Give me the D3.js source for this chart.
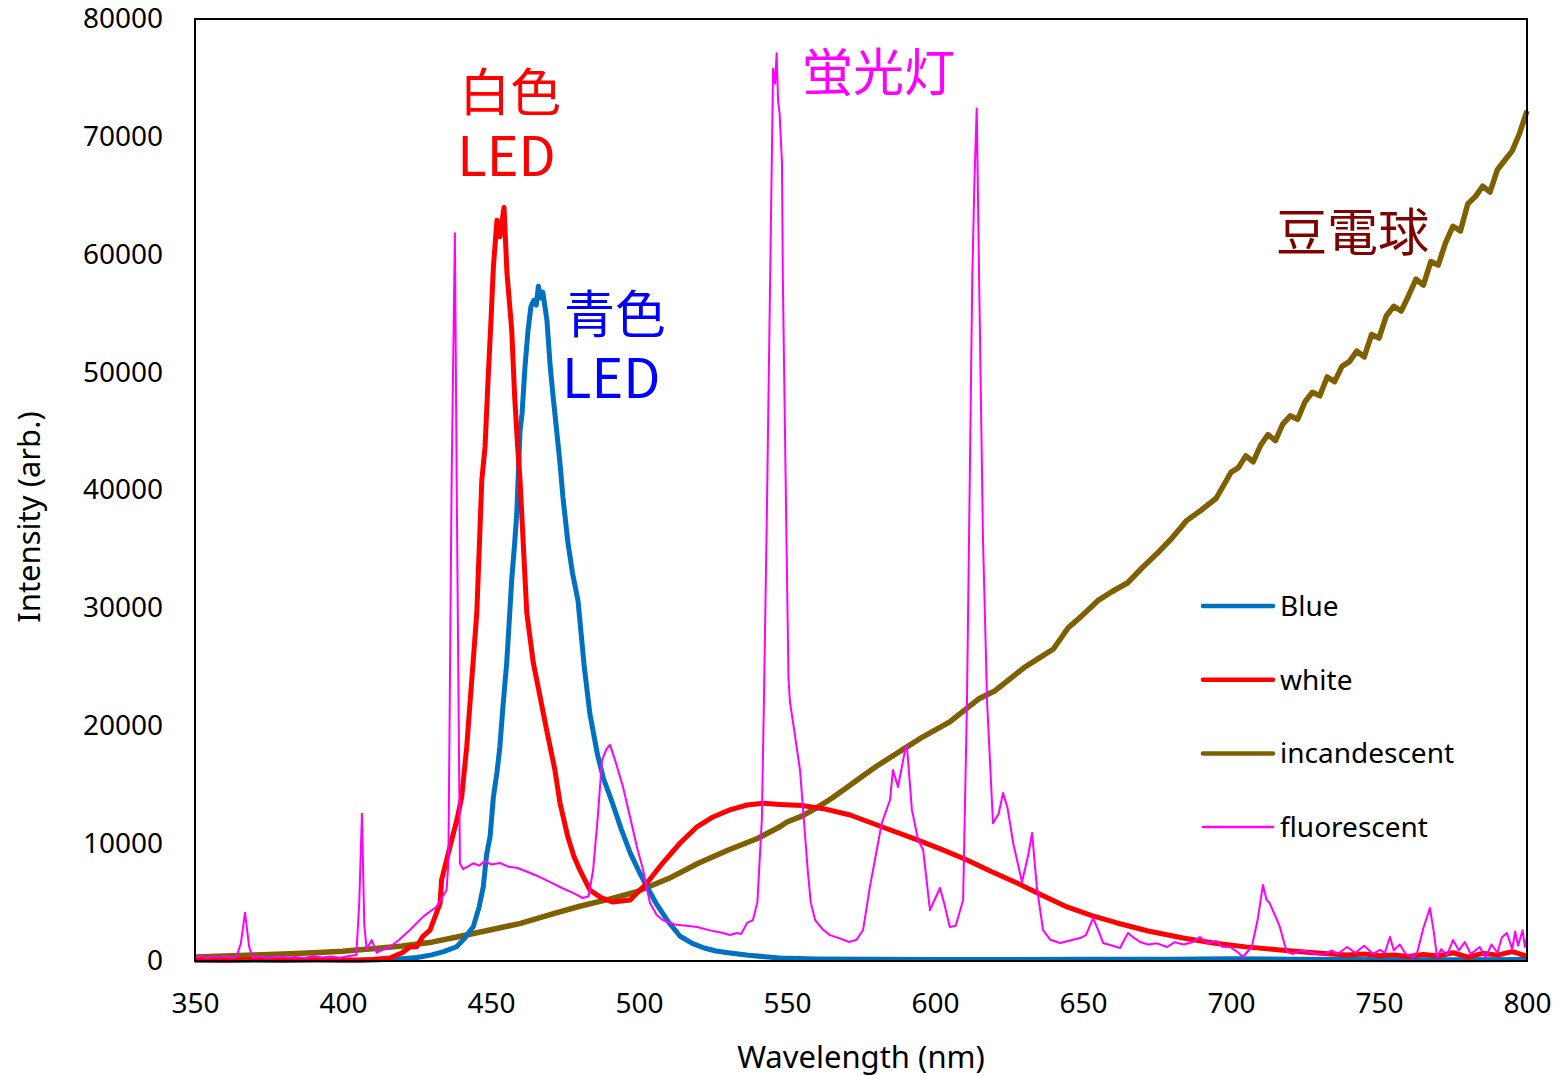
<!DOCTYPE html>
<html lang="ja">

<head>
    <meta charset="UTF-8">
    <style type="text/css">
        body {
            margin: 0;
            background: #fff;
        }

        .axis path,
        .axis line {
            display: none;
        }

        .axis text {
            font-family: "Noto Sans", sans-serif;
            font-size: 28px;
            fill: #000;
        }

        .title {
            font-family: "Noto Sans", sans-serif;
            font-size: 31px;
            fill: #000;
        }

        .legend text {
            font-family: "Noto Sans", sans-serif;
            font-size: 28px;
            fill: #000;
        }

        .note {
            font-family: "Noto Sans CJK JP", sans-serif;
        }
    </style>
</head>

<body>
    <div id="chart"></div>

    <script src="https://cdn.jsdelivr.net/npm/d3@7"></script>
    <script type="text/javascript">

        // blue LED
        var blueNm = [350, 360, 370, 380, 390, 400, 410, 415, 420, 425, 430, 434, 438.4, 441, 444, 446, 447.4, 448.5, 449.7, 450.8,
            452, 453, 454, 455.3, 456.2, 457, 458, 458.7, 459.8, 460.5, 461.5, 462.5, 463.5, 464.5, 465.3, 466, 466.8, 467.5,
            468.9, 470, 471, 472.2, 473.3, 474.3, 476, 477.5, 479.4, 481.5, 483.4, 486, 488, 490.9, 494, 497, 500, 502.7,
            506, 510, 513.9, 518, 522, 526, 530.7, 537, 547.6, 560, 580, 600, 620, 650, 680, 700, 720, 740, 760, 780, 800];
        var blueInt = [60, 40, 70, 50, 80, 60, 90, 120, 200, 300, 520, 800, 1210, 1900, 2900, 4600, 6300, 9000, 10600, 13900,
            16000, 18200, 21500, 25300, 29000, 32400, 35500, 38000, 45000, 46500, 50500, 53500, 55600, 56100, 55700, 57300, 56300, 56800,
            54400, 50500, 47900, 45000, 42300, 39400, 35500, 33000, 30600, 25000, 21000, 17500, 15500, 13500, 11200, 9200, 7600, 6300,
            4800, 3300, 2100, 1500, 1100, 850, 680, 480, 260, 180, 140, 130, 120, 140, 150, 190, 150, 120, 110, 100, 130];

        // white LED
        var whiteNm = [350, 360, 370, 380, 390, 400, 405, 410, 415.9, 420, 422.6, 424.9, 427, 429.4, 432.8, 433.3, 436.1, 438.5, 440.1,
            441.8, 443.5, 445.2, 446.9, 448, 449, 450, 450.8, 452, 453, 454.4, 455.4, 457, 458, 459, 459.8, 462.1, 464.3, 466.6,
            468.8, 471.6, 473.3, 476, 478, 480, 483.4, 487, 491, 497, 502.7, 508, 513.9, 519.6, 525, 530.7, 536.5, 542, 547.6,
            555, 563, 571.3, 582, 594, 602, 610.8, 619, 627.7, 636, 644.6, 653, 661.5, 672, 683.8, 694, 705, 716.5, 728, 739,
            745, 750, 755, 760, 765, 770, 775, 780, 785, 790, 795, 800];
        var whiteInt = [100, 60, 120, 80, 110, 90, 60, 130, 255, 700, 1190, 1210, 2100, 2630, 4900, 6880, 9680, 12000, 13930,
            18180, 23870, 29550, 40850, 43700, 49300, 54400, 58900, 62900, 61500, 64000, 58400, 53600, 47900, 43700, 40850, 29550, 25300, 22420,
            19620, 16220, 13420, 10500, 8900, 7730, 6030, 5400, 5010, 5180, 6630, 8320, 10020, 11400, 12230, 12830, 13250, 13400, 13300,
            13200, 12900, 12400, 11400, 10280, 9500, 8580, 7600, 6630, 5600, 4590, 3850, 3230, 2550, 1950, 1530, 1200, 935, 700, 510,
            600, 450, 520, 380, 560, 420, 700, 330, 650, 500, 800, 400];

        // incandescent
        var incNm = [350, 360, 370, 380, 390, 400, 404.7, 410, 420, 430, 438.5, 450, 460, 472, 480, 490, 499, 510, 520, 530, 540, 547.6,
            550, 555, 560, 565, 570, 575, 580, 585, 590, 595, 600, 605, 610, 615, 620, 625, 630, 635, 640, 645, 650, 655, 660, 665,
            670, 675, 680, 685, 690, 695, 700, 702.5, 705, 707.5, 710, 712.5, 715, 717.5, 720, 722.5, 725, 727.5, 730, 732.5, 735,
            737.5, 740, 742.5, 745, 747.5, 750, 752.5, 755, 757.5, 760, 762.5, 765, 767.5, 770, 772.5, 775, 777.5, 780, 782.5,
            785, 787.5, 790, 792.5, 795, 797.5, 800];
        var incInt = [340, 420, 500, 590, 700, 830, 935, 1050, 1280, 1600, 2040, 2650, 3200, 4080, 4650, 5250, 5860, 7000, 8300, 9400, 10400, 11400,
            11800, 12300, 13000, 13800, 14700, 15600, 16500, 17300, 18100, 18900, 19600, 20300, 21300, 22300, 22900, 23900, 24900, 25700, 26500, 28300, 29400, 30600, 31400, 32100,
            33400, 34600, 35900, 37400, 38300, 39300, 41500, 41900, 42900, 42400, 43800, 44700, 44200, 45600, 46300, 46000, 47500, 48300, 48000, 49600, 49200,
            50500, 50900, 51800, 51300, 53200, 52900, 54800, 55600, 55200, 56500, 57900, 57400, 59400, 59100, 61000, 62400, 62000, 64300, 64900,
            65800, 65300, 67200, 68000, 68800, 70300, 72200];

        // fluorescent
        var fluNm = [350, 352, 354, 356, 358, 360, 362, 364, 365.5, 366.9, 368.3, 369.5, 372, 375, 378, 381, 384, 387, 390, 393, 396, 399,
            402, 404.5, 405.5, 406.4, 407.2, 408, 409.7, 411.4, 413, 415.9, 419, 422.6, 427.1, 431.6, 435, 435.6, 436.7, 437.8, 438.4, 439.5,
            440.5, 442, 444, 446, 448, 450, 453, 456, 459, 462, 466.5, 470, 474, 477.7, 481, 483, 484.5, 486, 487.5, 489, 490.2, 492,
            494.6, 497, 499.3, 501.4, 503.7, 506, 508, 512, 516, 519.6, 524, 528, 530.7, 533, 534.5, 536.5, 538.5, 540, 541.5, 542.2,
            543.2, 544.3, 545.3, 546, 546.5, 547, 547.5, 548.3, 548.6, 549.7, 550.5, 551, 552.5, 554.4, 556, 557, 558, 559.5, 562, 564.5,
            568, 571, 573.5, 575.7, 578, 579.7, 582, 584.8, 585.8, 587.5, 589.9, 590.5, 592.2, 594.3, 596, 598.3, 601.7, 603, 605, 607,
            609.5, 610.8, 611.5, 612.6, 613.3, 614.1, 614.9, 616.2, 617.6, 619.6, 621.5, 623, 624.5, 626.4, 629.4, 631.5, 632.8, 634.4,
            636.5, 639, 642.2, 645, 649, 651, 653.4, 655, 656.8, 660, 662.5, 665.2, 667, 669.3, 672, 675, 678.4, 681, 684, 687.2, 689.5,
            692, 695, 697, 699.7, 702, 704, 707, 709, 710.8, 712, 713, 715, 716.5, 718, 718.9, 721, 724, 727.7, 731, 734, 736, 739.2,
            742, 745, 748, 750.3, 752, 753.7, 755, 757, 759, 761.5, 763, 765, 767.2, 768.5, 769.6, 771, 773, 775, 777, 779, 781, 784,
            786, 788, 790, 791.5, 793.2, 795, 796, 797, 798.5, 799.3, 800];
        var fluInt = [300, 450, 250, 380, 300, 420, 280, 350, 1500, 4100, 1200, 300, 380, 250, 400, 300, 350, 250, 420, 300, 380, 280,
            420, 500, 5000, 12500, 3000, 1000, 1780, 700, 900, 1210, 1800, 2630, 3770, 4610, 6030, 8300, 40850, 61800, 40850, 8300,
            7800, 8000, 8300, 8100, 8500, 8200, 8320, 8000, 7900, 7600, 7130, 6700, 6200, 5780, 5350, 5500, 7730, 12000, 17070, 18000, 18350, 17000,
            14780, 12200, 9680, 7730, 4930, 3900, 3480, 3100, 3000, 2890, 2600, 2400, 2210, 2380, 2300, 3230, 3480, 5000, 12000, 22000,
            38000, 57900, 75800, 74500, 77100, 73000, 72000, 67800, 57900, 38000, 24000, 22000, 19500, 16200, 11000, 7730, 5000, 3480, 2700, 2200,
            1900, 1610, 1800, 2630, 6290, 8580, 11700, 13670, 16220, 14780, 17920, 18300, 12830, 10280, 9430, 4330, 6200, 5000, 2890, 3000,
            5180, 22000, 36000, 58100, 66000, 72400, 58100, 36000, 22000, 11700, 12500, 14270, 13000, 10020, 6710, 9000, 10870, 6290,
            2630, 1800, 1530, 1700, 1950, 2200, 3650, 2700, 1530, 1300, 1100, 2380, 2000, 1610, 1400, 1500, 1190, 1600, 1400, 1610, 2040,
            1500, 1700, 1200, 1190, 800, 340, 1190, 3500, 6460, 5200, 4930, 3800, 2890, 1500, 765, 600, 900, 680, 500, 900, 600, 1190,
            700, 1300, 600, 935, 700, 2040, 900, 1400, 600, 340, 800, 2800, 4500, 2500, 340, 1000, 500, 1780, 900, 1600, 600, 1190,
            300, 1400, 700, 2000, 2380, 1000, 2500, 1300, 2600, 1200, 2040];

        var xTicks = [350, 400, 450, 500, 550, 600, 650, 700, 750, 800];
        var yTicks = [0, 10000, 20000, 30000, 40000, 50000, 60000, 70000, 80000];

        var seriesNames = ["Blue", "white", "incandescent", "fluorescent"];
        var seriesColors = ["#0070C0", "#FF0000", "#7F6000", "#FF00FF"];
        var seriesWidths = [5, 5, 5.5, 2];

        var margin = { top: 19, right: 36, bottom: 115, left: 195 },
            width = 1563 - margin.left - margin.right,
            height = 1076 - margin.top - margin.bottom;

        var series = [
            d3.zip(blueNm, blueInt),
            d3.zip(whiteNm, whiteInt),
            d3.zip(incNm, incInt),
            d3.zip(fluNm, fluInt)
        ];

        var svg = d3.select("#chart").append("svg")
            .attr("width", width + margin.left + margin.right)
            .attr("height", height + margin.top + margin.bottom)
            .append("g")
            .attr("transform", "translate(" + margin.left + "," + margin.top + ")");

        var x = d3.scaleLinear().domain([350, 800]).range([0, width]);
        var y = d3.scaleLinear().domain([0, 80000]).range([height, 0]);

        svg.append("g")
            .attr("class", "axis")
            .attr("transform", "translate(0," + height + ")")
            .call(d3.axisBottom(x).tickValues(xTicks).tickSize(0).tickPadding(32).tickFormat(d3.format("d")));

        svg.append("g")
            .attr("class", "axis")
            .call(d3.axisLeft(y).tickValues(yTicks).tickSize(0).tickPadding(32).tickFormat(d3.format("d")));

        var line = d3.line()
            .x(function (d) { return x(d[0]); })
            .y(function (d) { return y(d[1]); });

        // draw order: incandescent, blue, white, fluorescent on top
        [2, 0, 1, 3].forEach(function (i) {
            svg.append("path")
                .attr("d", line(series[i]))
                .style("fill", "none")
                .style("stroke", seriesColors[i])
                .style("stroke-width", seriesWidths[i])
                .style("stroke-linejoin", "round");
        });

        // frame
        svg.append("rect")
            .attr("width", width)
            .attr("height", height)
            .style("fill", "none")
            .style("stroke", "#000")
            .style("stroke-width", 2);

        // axis titles
        svg.append("text")
            .attr("class", "title")
            .attr("x", width / 2)
            .attr("y", height + 107)
            .style("text-anchor", "middle")
            .text("Wavelength (nm)");

        svg.append("text")
            .attr("class", "title")
            .attr("transform", "translate(" + (-166) + "," + (height / 2 + 27) + ") rotate(-90)")
            .attr("dy", "0.35em")
            .style("text-anchor", "middle")
            .text("Intensity (arb.)");

        // legend
        var legend = svg.append("g")
            .attr("class", "legend")
            .attr("transform", "translate(1008,587)");

        seriesNames.forEach(function (name, i) {
            var row = legend.append("g").attr("transform", "translate(0," + (i * 73.7) + ")");
            row.append("line")
                .attr("x1", 0).attr("x2", 70)
                .style("stroke", seriesColors[i])
                .style("stroke-width", i == 3 ? 2.5 : 4.5)
                .style("stroke-linecap", "round");
            row.append("text")
                .attr("x", 77)
                .attr("dy", "0.35em")
                .text(name);
        });

        // annotations (data coords); two-line ones use a tspan for the second line
        var notes = [
            { t: ["白色", "LED"], nm: 439.3, v: 72200, c: "#FF0000" },
            { t: ["青色", "LED"], nm: 474.7, v: 53300, c: "#0000FF" },
            { t: ["蛍光灯"], nm: 555.1, v: 73900, c: "#FF00FF" },
            { t: ["豆電球"], nm: 715.2, v: 60300, c: "#800000" }
        ];

        notes.forEach(function (d) {
            var tx = svg.append("text")
                .attr("class", "note")
                .attr("x", x(d.nm))
                .attr("y", y(d.v))
                .style("font-size", "51px")
                .style("fill", d.c)
                .text(d.t[0]);
            if (d.t.length > 1) {
                tx.append("tspan")
                    .attr("x", x(d.nm) - 2)
                    .attr("dy", 65)
                    .style("font-size", "54px")
                    .text(d.t[1]);
            }
        });

    </script>
</body>

</html>
